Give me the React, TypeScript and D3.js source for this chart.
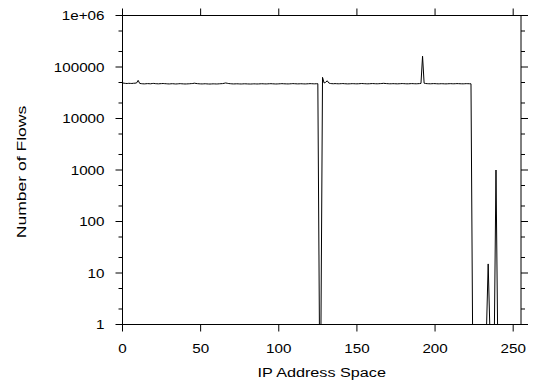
import React from "react";
import * as d3 from "d3";

const flows: number[] = [
  49000, 48500, 48000, 47800, 48200, 48000, 47900, 48300, 48500, 49000, 55000, 48000, 47500, 47200, 47000, 47300,
  47600, 47400, 47200, 47800, 48000, 47500, 47300, 47100, 47400, 47600, 47800, 47500, 47300, 47000, 46900, 47200,
  47400, 47100, 46800, 47000, 47300, 47500, 47200, 47000, 46800, 46900, 47100, 47300, 47600, 47800, 48500, 47900,
  47500, 47200, 47000, 46900, 47100, 47300, 47000, 46800, 46700, 46900, 47100, 47000, 46800, 46900, 47200, 47400,
  47600, 48200, 49000, 48300, 47700, 47400, 47100, 46900, 47000, 47200, 47100, 46900, 46800, 47000, 47200, 47100,
  46900, 46800, 46700, 46900, 47100, 47000, 46800, 46900, 47100, 47300, 47200, 47000, 46900, 47100, 47300, 47400,
  47200, 47000, 46800, 46900, 47100, 47300, 47500, 47300, 47100, 47000, 46900, 47100, 47300, 47600, 47400, 47200,
  47000, 47100, 47300, 47200, 47000, 46900, 47100, 47300, 47500, 47400, 47200, 47100, 47300, 47400, 1, 1,
  63000, 49000, 50500, 54000, 49000, 47800, 47500, 47300, 47600, 47400, 47200, 47300, 47500, 47700, 47400, 47200,
  47000, 47100, 47300, 47500, 47400, 47200, 47100, 47300, 47500, 47800, 47600, 47400, 47200, 47100, 47300, 47500,
  47700, 47500, 47300, 47200, 47400, 47600, 47800, 48200, 47900, 47600, 47400, 47200, 47300, 47500, 47400, 47200,
  47100, 47300, 47500, 47700, 47500, 47300, 47100, 47200, 47400, 47600, 47500, 47300, 47200, 47400, 47600, 48000,
  162000, 48500, 47800, 47500, 47300, 47200, 47400, 47600, 47500, 47300, 47100, 47200, 47400, 47300, 47100, 47000,
  47200, 47400, 47500, 47300, 47200, 47400, 47600, 47500, 47300, 47200, 47100, 47300, 47500, 47400, 47300, 47200,
  1, 1, 1, 1, 1, 1, 1, 1, 1, 1, 15, 1, 1, 1, 1, 1000,
  1, 1, 1, 1, 1, 1, 1, 1, 1, 1, 1, 1, 1, 1, 1, 1,
];

const xTicks = [0, 50, 100, 150, 200, 250];
const yTicks = [1, 10, 100, 1000, 10000, 100000, 1000000];
const yTickLabels = ["1", "10", "100", "1000", "10000", "100000", "1e+06"];
const yMinorFactors = [2, 5];
const xLabel = "IP Address Space";
const yLabel = "Number of Flows";

export default function App() {
  const W = 538, H = 384;
  const left = 122.5, right = 521, top = 15.5, bottom = 324.5;
  const x = d3.scaleLinear().domain([0, 255]).range([left, right]);
  const y = d3.scaleLog().domain([1, 1e6]).range([bottom, top]);
  const line = d3
    .line<number>()
    .x((_, i) => x(i))
    .y((d) => y(Math.max(d, 1)));
  const minors: number[] = [];
  yTicks.slice(0, -1).forEach((t) => yMinorFactors.forEach((f) => minors.push(t * f)));
  const font = "'Liberation Sans', Arial, Helvetica, sans-serif";
  const major = 7, minor = 4;
  const tickFs = 13, tickSx = 1.17;
  return (
    <svg
      width={W}
      height={H}
      style={{ position: "absolute", left: 0, top: 0, background: "#fff" }}
      fontFamily={font}
    >
      <rect x={0} y={0} width={W} height={H} fill="#fff" />
      <path d={line(flows) || ""} fill="none" stroke="#000" strokeWidth={1} />
      <rect x={left} y={top} width={right - left} height={bottom - top} fill="none" stroke="#000" strokeWidth={1} />
      {xTicks.map((t) => (
        <g key={"x" + t}>
          <line x1={x(t)} x2={x(t)} y1={bottom} y2={bottom + major} stroke="#000" />
          <line x1={x(t)} x2={x(t)} y1={top} y2={top - major} stroke="#000" />
          <text
            transform={`translate(${x(t)}, ${bottom + 28}) scale(${tickSx}, 1)`}
            textAnchor="middle"
            fontSize={tickFs}
          >
            {t}
          </text>
        </g>
      ))}
      {yTicks.map((t, i) => (
        <g key={"y" + t}>
          <line x1={left} x2={left - major} y1={y(t)} y2={y(t)} stroke="#000" />
          <line x1={right} x2={right + major} y1={y(t)} y2={y(t)} stroke="#000" />
          <text
            transform={`translate(${left - 18}, ${y(t) + 4.6}) scale(${tickSx}, 1)`}
            textAnchor="end"
            fontSize={tickFs}
          >
            {yTickLabels[i]}
          </text>
        </g>
      ))}
      {minors.map((t) => (
        <g key={"m" + t}>
          <line x1={left} x2={left - minor} y1={y(t)} y2={y(t)} stroke="#000" />
          <line x1={right} x2={right + minor} y1={y(t)} y2={y(t)} stroke="#000" />
        </g>
      ))}
      <text
        transform={`translate(${(left + right) / 2}, 377) scale(1.2, 1)`}
        textAnchor="middle"
        fontSize={13.5}
      >
        {xLabel}
      </text>
      <text
        transform={`translate(25.5, ${(top + bottom) / 2 + 2}) rotate(-90) scale(1.3, 1)`}
        textAnchor="middle"
        fontSize={13.5}
      >
        {yLabel}
      </text>
    </svg>
  );
}
